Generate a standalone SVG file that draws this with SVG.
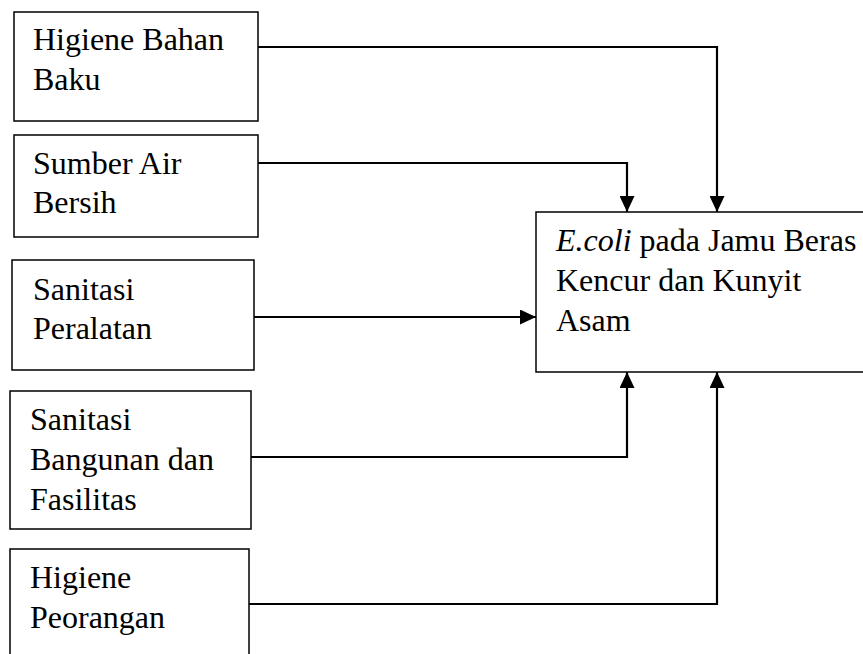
<svg xmlns="http://www.w3.org/2000/svg" width="863" height="654" viewBox="0 0 863 654">
<style>
.box{fill:#fff;stroke:#000;stroke-width:1.5}
.t{font-family:"Liberation Serif","Times New Roman",serif;font-size:32px;fill:#000}
.c{fill:none;stroke:#000;stroke-width:2.2}
</style>
<defs>
<marker id="ah" viewBox="0 0 16 15" refX="16" refY="7.5" markerWidth="16" markerHeight="15" markerUnits="userSpaceOnUse" orient="auto">
<path d="M0,0 L16,7.5 L0,15 Z" fill="#000"/>
</marker>
</defs>
<rect width="863" height="654" fill="#fff"/>
<g id="n1"><rect class="box" x="14" y="12" width="244" height="109"/>
<text class="t" x="33" y="50">Higiene Bahan</text>
<text class="t" x="33" y="90">Baku</text></g>
<g id="n2"><rect class="box" x="14" y="135" width="244" height="102"/>
<text class="t" x="33" y="174">Sumber Air</text>
<text class="t" x="33" y="213">Bersih</text></g>
<g id="n3"><rect class="box" x="12" y="260" width="242" height="110"/>
<text class="t" x="33" y="300">Sanitasi</text>
<text class="t" x="33" y="339">Peralatan</text></g>
<g id="n4"><rect class="box" x="10" y="391" width="241" height="138"/>
<text class="t" x="30" y="430">Sanitasi</text>
<text class="t" x="30" y="470">Bangunan dan</text>
<text class="t" x="30" y="510">Fasilitas</text></g>
<g id="n5"><rect class="box" x="10" y="549" width="239" height="120"/>
<text class="t" x="30" y="588">Higiene</text>
<text class="t" x="30" y="628">Peorangan</text></g>
<g id="main"><rect class="box" x="536" y="212" width="340" height="160"/>
<text class="t" x="556" y="251"><tspan font-style="italic">E.coli</tspan> pada Jamu Beras</text>
<text class="t" x="556" y="291">Kencur dan Kunyit</text>
<text class="t" x="556" y="331">Asam</text></g>
<g id="connectors">
<path class="c" d="M258,47 H717 V212" marker-end="url(#ah)"/>
<path class="c" d="M258,163 H627 V212" marker-end="url(#ah)"/>
<path class="c" d="M254,317 H536" marker-end="url(#ah)"/>
<path class="c" d="M251,457 H627 V372" marker-end="url(#ah)"/>
<path class="c" d="M249,604 H717 V372" marker-end="url(#ah)"/>
</g>
</svg>
